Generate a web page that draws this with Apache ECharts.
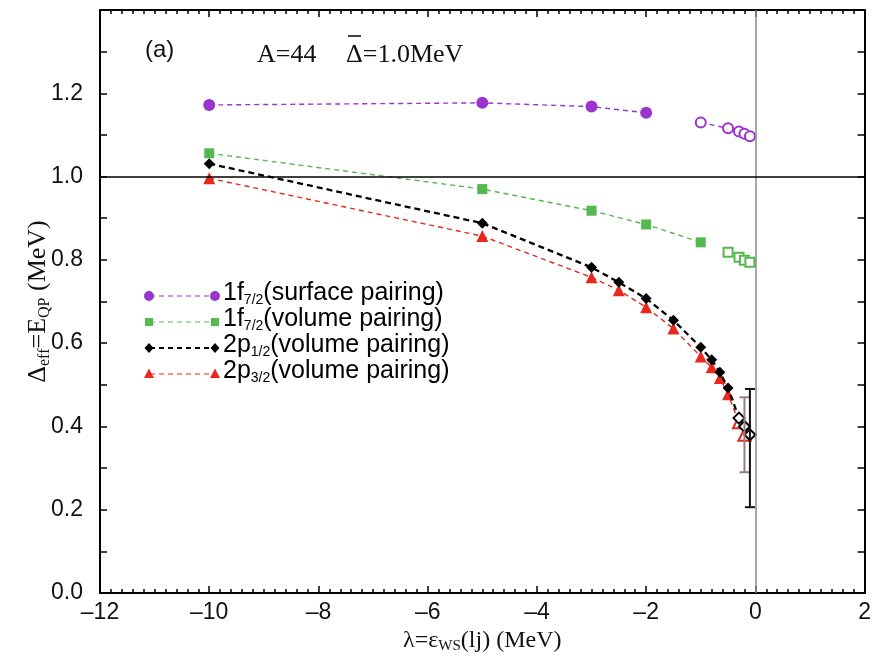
<!DOCTYPE html>
<html>
<head>
<meta charset="utf-8">
<script src="https://cdn.jsdelivr.net/npm/echarts@6/dist/echarts.min.js"></script>
<style>
  html, body { margin: 0; padding: 0; background: #fff; }
  #chart { width: 874px; height: 666px; }
</style>
</head>
<body>
<div id="chart"></div>
<script>
// Effective pairing gap vs. single-particle energy, A=44, mean gap 1.0 MeV

// 1f7/2, surface pairing (bound: filled, unbound: open)
const surfX = [-10, -5, -3, -2];
const surfY = [1.172, 1.177, 1.168, 1.153];
const surfOpenX = [-1, -0.5, -0.3, -0.2, -0.1];
const surfOpenY = [1.130, 1.116, 1.108, 1.103, 1.097];

// 1f7/2, volume pairing
const volFX = [-10, -5, -3, -2, -1];
const volFY = [1.056, 0.970, 0.918, 0.885, 0.842];
const volFOpenX = [-0.5, -0.3, -0.2, -0.1];
const volFOpenY = [0.818, 0.806, 0.799, 0.794];

// 2p1/2, volume pairing (last three are resonances)
const p12X = [-10, -5, -3, -2.5, -2, -1.5, -1, -0.8, -0.65, -0.5, -0.3, -0.2, -0.1];
const p12Y = [1.031, 0.888, 0.782, 0.746, 0.707, 0.655, 0.590, 0.560, 0.530, 0.492, 0.42, 0.40, 0.38];
const p12OpenFrom = 10;
const p12ErrX = [-0.1];
const p12ErrLow = [0.206];
const p12ErrHigh = [0.49];

// 2p3/2, volume pairing
const p32X = [-10, -5, -3, -2.5, -2, -1.5, -1, -0.8, -0.65, -0.5, -0.3, -0.2];
const p32Y = [0.996, 0.857, 0.758, 0.727, 0.686, 0.635, 0.568, 0.542, 0.516, 0.477, 0.41, 0.38];
const p32OpenFrom = 10;
const p32ErrX = [-0.2];
const p32ErrLow = [0.29];
const p32ErrHigh = [0.47];

const xTicks = [-12, -10, -8, -6, -4, -2, 0, 2];
const yTicks = [0.0, 0.2, 0.4, 0.6, 0.8, 1.0, 1.2];

const PURPLE = '#9a34cc';
const GREEN = '#55b94f';
const BLACK = '#000000';
const RED = '#e8281c';
const SANS = '"Liberation Sans", Arial, sans-serif';
const SERIF = '"Liberation Serif", "Times New Roman", serif';

function pairs(xs, ys) { return xs.map((x, i) => [x, ys[i]]); }
function withOpen(xs, ys, from, openSym) {
  return xs.map((x, i) => i >= from ? { value: [x, ys[i]], symbol: openSym } : [x, ys[i]]);
}
function errData(xs, lo, hi) { return xs.map((x, i) => [x, lo[i], hi[i]]); }

function errorBars(color) {
  return function (params, api) {
    const x = api.value(0);
    const lo = api.coord([x, api.value(1)]);
    const hi = api.coord([x, api.value(2)]);
    const w = 5;
    const st = { stroke: color, lineWidth: 2 };
    return {
      type: 'group',
      children: [
        { type: 'line', shape: { x1: lo[0], y1: lo[1], x2: hi[0], y2: hi[1] }, style: st },
        { type: 'line', shape: { x1: lo[0] - w, y1: lo[1], x2: lo[0] + w, y2: lo[1] }, style: st },
        { type: 'line', shape: { x1: hi[0] - w, y1: hi[1], x2: hi[0] + w, y2: hi[1] }, style: st }
      ]
    };
  };
}

const chart = echarts.init(document.getElementById('chart'), null, { renderer: 'canvas' });

const tickFmtX = v => (v < 0 ? '\u2013' + Math.abs(v) : String(v));
const tickFmtY = v => v.toFixed(1);

const dashLine = (color, w, dash) => ({ color: color, width: w, type: dash });

// Legend drawn as marker - - - marker pairs with sub-scripted labels
const legendRows = [
  { color: PURPLE, symbol: 'circle', w: 1.2, label: '1f{s|7/2}(surface pairing)' },
  { color: GREEN, symbol: 'rect', w: 1.2, label: '1f{s|7/2}(volume pairing)' },
  { color: BLACK, symbol: 'diamond', w: 2, label: '2p{s|1/2}(volume pairing)' },
  { color: RED, symbol: 'triangle', w: 1.2, label: '2p{s|3/2}(volume pairing)' }
];
const legendGraphics = [];
legendRows.forEach((r, i) => {
  const y = 296 + i * 26;
  legendGraphics.push({
    type: 'line', shape: { x1: 150, y1: y, x2: 214, y2: y },
    style: { stroke: r.color, lineWidth: r.w, lineDash: [5, 4] }, z: 100
  });
  [149, 215].forEach(cx => {
    if (r.symbol === 'circle') {
      legendGraphics.push({ type: 'circle', shape: { cx: cx, cy: y, r: 5 }, style: { fill: r.color }, z: 101 });
    } else if (r.symbol === 'rect') {
      legendGraphics.push({ type: 'rect', shape: { x: cx - 4, y: y - 4, width: 8, height: 8 }, style: { fill: r.color }, z: 101 });
    } else if (r.symbol === 'diamond') {
      legendGraphics.push({ type: 'polygon', shape: { points: [[cx, y - 5], [cx + 4.5, y], [cx, y + 5], [cx - 4.5, y]] }, style: { fill: r.color }, z: 101 });
    } else {
      legendGraphics.push({ type: 'polygon', shape: { points: [[cx, y - 5.5], [cx + 5, y + 4], [cx - 5, y + 4]] }, style: { fill: r.color }, z: 101 });
    }
  });
  legendGraphics.push({
    type: 'text', left: 223, top: y - 15, z: 101,
    style: {
      text: r.label, fill: '#000', font: '25px ' + SANS,
      rich: { s: { fontSize: 14, fontFamily: SANS, padding: [13, 0, 0, 0] } }
    }
  });
});

const option = {
  animation: false,
  backgroundColor: '#ffffff',
  grid: { left: 100, right: 8, top: 10, bottom: 73, containLabel: false },
  xAxis: [
    {
      type: 'value', min: -12, max: 2, interval: 2,
      position: 'bottom',
      axisLine: { onZero: false, lineStyle: { color: '#000', width: 2 } },
      axisTick: { inside: true, length: 7, lineStyle: { color: '#000', width: 1.5 } },
      minorTick: { show: true, splitNumber: 10, length: 4, lineStyle: { color: '#000', width: 1.5 } },
      splitLine: { show: false },
      axisLabel: { formatter: tickFmtX, color: '#111', fontFamily: SANS, fontSize: 23, margin: 8 },
      name: 'λ=ε{s|WS}(lj) (MeV)',
      nameLocation: 'middle', nameGap: 34, nameMoveOverlap: false,
      nameTextStyle: {
        fontFamily: SERIF, fontSize: 24, color: '#111',
        rich: { s: { fontFamily: SERIF, fontSize: 15, padding: [12, 0, 0, 0] } }
      }
    },
    {
      type: 'value', min: -12, max: 2, interval: 2,
      position: 'top',
      axisLine: { onZero: false, lineStyle: { color: '#000', width: 2 } },
      axisTick: { inside: true, length: 7, lineStyle: { color: '#000', width: 1.5 } },
      minorTick: { show: true, splitNumber: 10, length: 4, lineStyle: { color: '#000', width: 1.5 } },
      splitLine: { show: false },
      axisLabel: { show: false }
    }
  ],
  yAxis: [
    {
      type: 'value', min: 0, max: 1.4, interval: 0.2,
      position: 'left',
      axisLine: { onZero: false, lineStyle: { color: '#000', width: 2 } },
      axisTick: { inside: true, length: 7, lineStyle: { color: '#000', width: 1.5 } },
      minorTick: { show: true, splitNumber: 2, length: 7, lineStyle: { color: '#000', width: 1.5 } },
      splitLine: { show: false },
      axisLabel: {
        formatter: v => (v > 1.3 ? '' : tickFmtY(v)),
        color: '#111', fontFamily: SANS, fontSize: 23, margin: 17
      },
      name: 'Δ{s|eff}=E{s|QP} (MeV)',
      nameLocation: 'middle', nameGap: 47, nameRotate: 90, nameMoveOverlap: false,
      nameTextStyle: {
        fontFamily: SERIF, fontSize: 26, color: '#111',
        rich: { s: { fontFamily: SERIF, fontSize: 16, padding: [13, 0, 0, 0] } }
      }
    },
    {
      type: 'value', min: 0, max: 1.4, interval: 0.2,
      position: 'right',
      axisLine: { onZero: false, lineStyle: { color: '#000', width: 2 } },
      axisTick: { inside: true, length: 7, lineStyle: { color: '#000', width: 1.5 } },
      minorTick: { show: true, splitNumber: 2, length: 7, lineStyle: { color: '#000', width: 1.5 } },
      splitLine: { show: false },
      axisLabel: { show: false }
    }
  ],
  graphic: [
    { type: 'text', left: 145, top: 38, style: { text: '(a)', font: '24px ' + SANS, fill: '#111' } },
    { type: 'text', left: 257, top: 42, style: { text: 'A=44', font: '26px ' + SERIF, fill: '#111' } },
    { type: 'text', left: 346, top: 42, style: { text: 'Δ=1.0MeV', font: '26px ' + SERIF, fill: '#111' } },
    { type: 'line', shape: { x1: 348, y1: 36, x2: 361, y2: 36 }, style: { stroke: '#111', lineWidth: 1.6 } }
  ].concat(legendGraphics),
  series: [
    {
      name: 'ref', type: 'line', data: [], silent: true,
      markLine: {
        silent: true, symbol: 'none', label: { show: false },
        data: [
          { xAxis: 0, lineStyle: { color: '#8a8a8a', width: 1.5, type: 'solid' } },
          { yAxis: 1.0, lineStyle: { color: '#000', width: 1.5, type: 'solid' } }
        ]
      }
    },
    {
      name: 'surf', type: 'line', data: pairs(surfX, surfY),
      symbol: 'circle', symbolSize: 12, itemStyle: { color: PURPLE },
      lineStyle: dashLine(PURPLE, 1.4, [5, 4])
    },
    {
      name: 'surfOpen', type: 'line', data: pairs(surfOpenX, surfOpenY),
      symbol: 'emptyCircle', symbolSize: 10, itemStyle: { color: PURPLE, borderWidth: 2 },
      lineStyle: dashLine(PURPLE, 1.4, [5, 4])
    },
    {
      name: 'volF', type: 'line', data: pairs(volFX, volFY),
      symbol: 'rect', symbolSize: 10, itemStyle: { color: GREEN },
      lineStyle: dashLine(GREEN, 1.4, [5, 4])
    },
    {
      name: 'volFOpen', type: 'line', data: pairs(volFOpenX, volFOpenY),
      symbol: 'emptyRect', symbolSize: 9, itemStyle: { color: GREEN, borderWidth: 1.5 },
      lineStyle: dashLine(GREEN, 1.4, [5, 4])
    },
    {
      name: 'p32', type: 'line', data: withOpen(p32X, p32Y, p32OpenFrom, 'emptyTriangle'),
      symbol: 'triangle', symbolSize: 12, itemStyle: { color: RED, borderWidth: 1.5 },
      lineStyle: dashLine(RED, 1.4, [5, 4]), z: 3
    },
    {
      name: 'p12', type: 'line', data: withOpen(p12X, p12Y, p12OpenFrom, 'emptyDiamond'),
      symbol: 'diamond', symbolSize: 11, itemStyle: { color: BLACK, borderWidth: 1.5 },
      lineStyle: dashLine(BLACK, 2.3, [6, 4]), z: 4
    },
    {
      name: 'p32err', type: 'custom', data: errData(p32ErrX, p32ErrLow, p32ErrHigh),
      renderItem: errorBars('#9a7f7f'), z: 5
    },
    {
      name: 'p12err', type: 'custom', data: errData(p12ErrX, p12ErrLow, p12ErrHigh),
      renderItem: errorBars('#111'), z: 6
    }
  ]
};

chart.setOption(option);
</script>
</body>
</html>
